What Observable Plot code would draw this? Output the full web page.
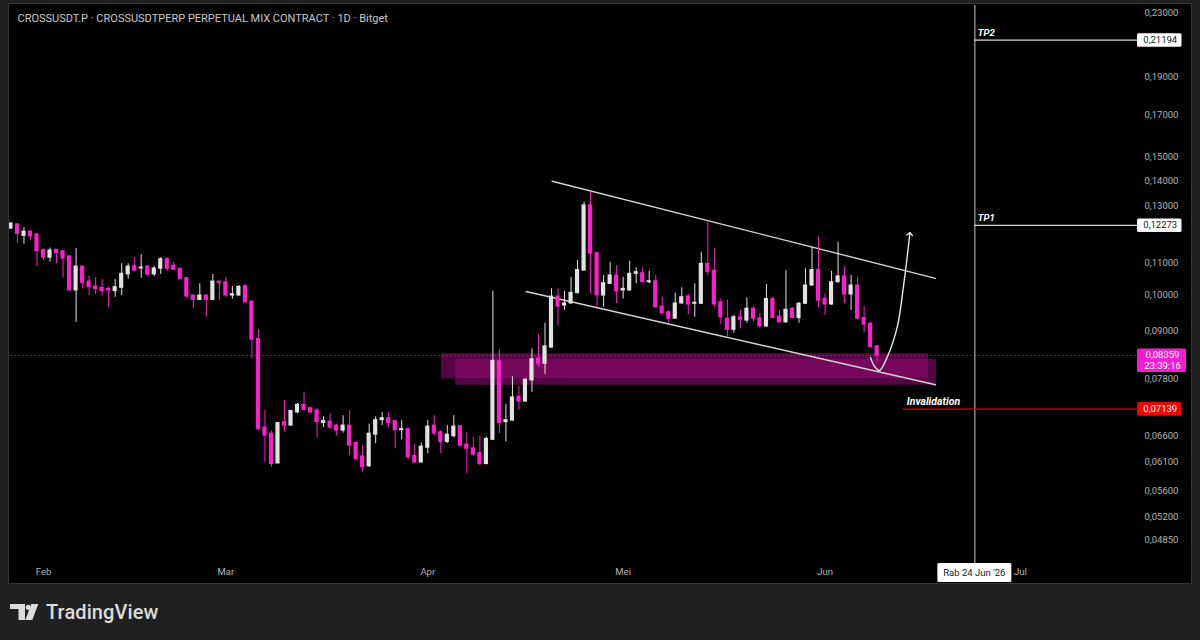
<!DOCTYPE html>
<html>
<head>
<meta charset="utf-8">
<script src="https://cdn.jsdelivr.net/npm/d3@7"></script>
<script src="https://cdn.jsdelivr.net/npm/@observablehq/plot@0.6"></script>
<style>
html,body{margin:0;padding:0;background:#202020;width:1200px;height:640px;overflow:hidden;font-family:Roboto,"Noto Sans",sans-serif;}
#frame{position:absolute;left:9px;top:4px;width:1182px;height:579px;background:#000;outline:1px solid #353535;}
#frame svg{display:block;}
#brand{position:absolute;left:10px;top:598px;height:28px;display:flex;align-items:center;color:#dcdcdc;font-family:Roboto,sans-serif;font-weight:500;font-size:20px;letter-spacing:0.1px;}
#brand svg{margin-right:7px;}
</style>
</head>
<body>
<div id="frame"></div>
<div id="brand"><svg width="29" height="16" viewBox="0 0 29 16"><path d="M0 0H15V16H8.5V5H0Z" fill="#dcdcdc"/><circle cx="18.3" cy="3.3" r="2.6" fill="#dcdcdc"/><path d="M21.3 0H28.3L22.3 16H15.3Z" fill="#dcdcdc"/></svg><span>TradingView</span></div>
<script>
// ---------- data ----------
const titleText = "CROSSUSDT.P · CROSSUSDTPERP PERPETUAL MIX CONTRACT · 1D · Bitget";
const firstCandleDate = "2026-01-27"; // daily candles, one per day

const opens = [
0.1216,0.1231,0.1190,0.1205,0.1195,0.1142,0.1116,0.1142,0.1137,0.1120,
0.1013,0.1087,0.1040,0.1025,0.1021,0.1018,0.1011,0.1021,0.1062,0.1088,
0.1081,0.1087,0.1062,0.1080,0.1111,0.1090,0.1080,0.1051,0.0998,0.0985,
0.0998,0.0985,0.1040,0.1038,0.0998,0.0998,0.1026,0.0980,0.0878,0.0676,
0.0664,0.0608,0.0687,0.0680,0.0707,0.0723,0.0716,0.0711,0.0685,0.0688,
0.0680,0.0670,0.0680,0.0646,0.0621,0.0603,0.0662,0.0691,0.0695,0.0689,
0.0671,0.0673,0.0622,0.0610,0.0637,0.0680,0.0667,0.0648,0.0659,0.0679,
0.0643,0.0636,0.0627,0.0607,0.0652,0.0822,0.0687,0.0690,0.0740,0.0730,
0.0777,0.0828,0.0816,0.0856,0.0995,0.0969,0.0975,0.1005,0.1074,0.1302,
0.1131,0.0998,0.1033,0.1059,0.1013,0.1013,0.1064,0.1066,0.1038,0.1041,
0.0966,0.0950,0.0932,0.0975,0.0995,0.0974,0.0974,0.1096,0.1074,0.0978,
0.0932,0.0902,0.0936,0.0927,0.0960,0.0933,0.0911,0.0988,0.0938,0.0922,
0.0960,0.0934,0.0974,0.1028,0.1076,0.0988,0.0972,0.1038,0.1056,0.1001,
0.1028,0.0934,0.0918,0.0859];
const highs = [
0.1238,0.1234,0.1220,0.1209,0.1200,0.1144,0.1148,0.1143,0.1140,0.1123,
0.1146,0.1089,0.1056,0.1052,0.1046,0.1023,0.1046,0.1096,0.1096,0.1116,
0.1126,0.1089,0.1087,0.1116,0.1116,0.1101,0.1081,0.1053,0.1000,0.1033,
0.1000,0.1062,0.1040,0.1053,0.1025,0.1028,0.1031,0.0983,0.0902,0.0711,
0.0669,0.0687,0.0732,0.0711,0.0726,0.0750,0.0718,0.0715,0.0698,0.0705,
0.0683,0.0700,0.0711,0.0648,0.0641,0.0683,0.0698,0.0707,0.0707,0.0690,
0.0690,0.0675,0.0643,0.0646,0.0690,0.0700,0.0670,0.0680,0.0700,0.0680,
0.0667,0.0656,0.0659,0.0657,0.1011,0.0849,0.0724,0.0785,0.0763,0.0779,
0.0853,0.0889,0.0920,0.1018,0.1018,0.1011,0.1053,0.1107,0.1315,0.1354,
0.1134,0.1059,0.1101,0.1090,0.1053,0.1105,0.1083,0.1083,0.1072,0.1059,
0.0993,0.0955,0.1005,0.1021,0.1001,0.1033,0.1134,0.1239,0.1146,0.0988,
0.0985,0.0941,0.0955,0.0991,0.0966,0.0947,0.1031,0.0993,0.0955,0.1074,
0.0963,0.0978,0.1080,0.1151,0.1186,0.1003,0.1072,0.1168,0.1087,0.1059,
0.1053,0.0966,0.0922,0.0861];
const lows = [
0.1213,0.1164,0.1161,0.1174,0.1087,0.1107,0.1101,0.1096,0.1051,0.1011,
0.0922,0.1018,0.0998,0.1001,0.0996,0.0963,0.0993,0.0998,0.1048,0.1072,
0.1050,0.1056,0.1056,0.1062,0.1072,0.1074,0.1045,0.0988,0.0960,0.0985,
0.0936,0.0983,0.0983,0.0993,0.0987,0.0996,0.0976,0.0828,0.0670,0.0610,
0.0601,0.0608,0.0667,0.0679,0.0704,0.0711,0.0705,0.0656,0.0676,0.0673,
0.0660,0.0665,0.0622,0.0613,0.0593,0.0601,0.0645,0.0680,0.0676,0.0635,
0.0652,0.0616,0.0608,0.0608,0.0626,0.0660,0.0626,0.0645,0.0656,0.0638,
0.0590,0.0621,0.0604,0.0606,0.0651,0.0664,0.0648,0.0689,0.0712,0.0728,
0.0750,0.0808,0.0791,0.0854,0.0913,0.0955,0.0972,0.1003,0.1074,0.1003,
0.0964,0.0964,0.1031,0.0975,0.0988,0.1011,0.1033,0.1035,0.1033,0.0963,
0.0943,0.0920,0.0932,0.0972,0.0943,0.0936,0.0972,0.1059,0.0964,0.0916,
0.0883,0.0893,0.0905,0.0920,0.0922,0.0909,0.0909,0.0932,0.0920,0.0920,
0.0932,0.0920,0.0972,0.1025,0.0963,0.0941,0.0969,0.1035,0.0974,0.0955,
0.0929,0.0895,0.0856,0.0820];
const closes = [
0.1234,0.1197,0.1205,0.1188,0.1138,0.1116,0.1140,0.1131,0.1113,0.1013,
0.1087,0.1036,0.1023,0.1017,0.1011,0.1013,0.1023,0.1064,0.1087,0.1074,
0.1084,0.1061,0.1081,0.1111,0.1080,0.1077,0.1048,0.0995,0.0985,0.0998,
0.0985,0.1040,0.1036,0.0998,0.1002,0.1024,0.0978,0.0876,0.0673,0.0660,
0.0607,0.0685,0.0680,0.0710,0.0723,0.0712,0.0707,0.0687,0.0689,0.0676,
0.0670,0.0680,0.0641,0.0616,0.0602,0.0664,0.0691,0.0695,0.0685,0.0671,
0.0673,0.0619,0.0610,0.0639,0.0678,0.0664,0.0648,0.0662,0.0678,0.0641,
0.0635,0.0624,0.0607,0.0654,0.0823,0.0685,0.0691,0.0739,0.0730,0.0779,
0.0827,0.0816,0.0859,0.0995,0.0966,0.0975,0.1006,0.1076,0.1302,0.1129,
0.0998,0.1035,0.1059,0.1011,0.1018,0.1064,0.1069,0.1038,0.1041,0.0964,
0.0947,0.0932,0.0975,0.0993,0.0972,0.0977,0.1096,0.1070,0.0972,0.0936,
0.0902,0.0936,0.0929,0.0960,0.0932,0.0911,0.0988,0.0934,0.0922,0.0957,
0.0934,0.0974,0.1028,0.1076,0.0983,0.0972,0.1038,0.1056,0.1001,0.1028,
0.0932,0.0916,0.0857,0.08359];

// price axis ticks (those hidden behind the price labels are left out) and month labels
const priceTicks = [0.23,0.19,0.17,0.15,0.14,0.13,0.11,0.10,0.09,0.078,0.066,0.061,0.056,0.052,0.0485];
const monthTicks = ["2026-02-01","2026-03-01","2026-04-01","2026-05-01","2026-06-01","2026-07-01"];
const monthLabels = ["Feb","Mar","Apr","Mei","Jun","Jul"];

// annotation levels
const targetNames = ["TP2","TP1"];
const targetPrices = [0.21194, 0.12273];
const invalidationPrice = 0.07139;
const invalidationFrom = "2026-06-13";
const currentPrice = 0.08359;
const countdown = "23:39:16";
const crosshairDate = "2026-06-24";
const crosshairLabel = "Rab 24 Jun '26";

// descending channel
const channelNames = ["upper","upper","lower","lower"];
const channelDates = ["2026-04-20T02:24Z","2026-06-17T23:00Z","2026-04-16T02:24Z","2026-06-17T23:00Z"];
const channelPrices = [0.1398, 0.1050, 0.1010, 0.0767];

// demand zone (two overlapping boxes)
const zoneFrom = ["2026-04-03T02:24Z","2026-04-05T07:12Z"];
const zoneTo = ["2026-06-16T21:36Z","2026-06-18T02:24Z"];
const zoneLow = [0.0781, 0.0766];
const zoneHigh = [0.0841, 0.0827];

// projected path
const pathDates = ["2026-06-07T23:31Z","2026-06-08T14:10Z","2026-06-09T08:38Z","2026-06-10T12:58Z","2026-06-12T01:55Z","2026-06-13T02:10Z","2026-06-13T14:38Z","2026-06-14T00:14Z"];
const pathPrices = [0.0831, 0.0810, 0.0800, 0.0832, 0.0909, 0.1033, 0.1118, 0.1197];

// ---------- build ----------
const DAY = 864e5;
const t0 = Date.parse(firstCandleDate + "T00:00Z");
const candles = opens.map((o, i) => ({
  date: new Date(t0 + i * DAY), open: o, high: highs[i], low: lows[i], close: closes[i]
}));
const UP = "#e2e2e2", DOWN = "#ff1dd0";
const col = d => d.close >= d.open ? UP : DOWN;

const zones = zoneFrom.map((f, i) => ({x1: new Date(f), x2: new Date(zoneTo[i]), y1: zoneLow[i], y2: zoneHigh[i]}));
const channel = channelDates.map((d, i) => ({name: channelNames[i], date: new Date(d), price: channelPrices[i]}));
const path = pathDates.map((d, i) => ({date: new Date(d), price: pathPrices[i]}));
const targets = targetNames.map((n, i) => ({name: n, price: targetPrices[i]}));
const cross = new Date(crosshairDate + "T00:00Z");
const invFrom = new Date(invalidationFrom + "T00:00Z");
const months = monthTicks.map(d => new Date(d + "T00:00Z"));

const feb1 = Date.UTC(2026, 1, 1);
const xDomain = [new Date(feb1 - 5.07 * DAY), new Date(feb1 + 166.9 * DAY)];
const W = 1182, H = 579, mR = 61, mL = 1, mT = 1, mB = 24;
const fmt = v => d3.format(".5f")(v).replace(".", ",");

const chart = Plot.plot({
  width: W, height: H,
  marginLeft: mL, marginRight: mR, marginTop: mT, marginBottom: mB,
  style: {background: "#000", color: "#b4b4b4", fontFamily: "Roboto, sans-serif", fontSize: "9.5px", overflow: "visible"},
  x: {type: "utc", domain: xDomain},
  y: {type: "log", domain: [0.04581, 0.2348]},
  marks: [
    Plot.axisY({anchor: "right", ticks: priceTicks, tickFormat: fmt, tickSize: 0, tickPadding: 14, label: null, fill: "#b4b4b4"}),
    Plot.axisX({ticks: months, tickFormat: d => monthLabels[months.findIndex(m => +m === +d)], tickSize: 0, tickPadding: 9, label: null, fill: "#b4b4b4"}),
    Plot.text([titleText], {text: d => d, frameAnchor: "top-left", textAnchor: "start", lineAnchor: "top", dx: 7, dy: 8.5, fill: "#c8c8c8", fontSize: 11}),
    Plot.rect(zones, {x1: "x1", x2: "x2", y1: "y1", y2: "y2", fill: "#8c0a70", fillOpacity: 0.6}),
    Plot.ruleY([currentPrice], {stroke: "#c41aa3", strokeWidth: 1, strokeDasharray: "1.5,2.5", insetRight: -7}),
    Plot.ruleX([cross], {stroke: "#cfcfcf", strokeWidth: 1, insetBottom: -4}),
    Plot.ruleY(targets, {y: "price", x1: () => cross, x2: () => xDomain[1], stroke: "#d6d6d6", strokeWidth: 1.3, insetRight: -7}),
    Plot.text(targets, {x: () => cross, y: "price", text: "name", textAnchor: "start", lineAnchor: "bottom", dx: 3, dy: -4, fill: "#ffffff", fontWeight: "bold", fontStyle: "italic", fontSize: 9.5}),
    Plot.ruleY([invalidationPrice], {y: d => d, x1: () => invFrom, x2: () => xDomain[1], stroke: "#e00000", strokeWidth: 1.4, insetRight: -7}),
    Plot.text(["Invalidation"], {x: () => invFrom, y: () => invalidationPrice, text: d => d, textAnchor: "start", lineAnchor: "bottom", dx: 3.5, dy: -4, fill: "#ffffff", fontWeight: "bold", fontStyle: "italic", fontSize: 10.5}),
    Plot.line(channel, {x: "date", y: "price", z: "name", stroke: "#d4d4d4", strokeWidth: 1.4}),
    Plot.ruleX(candles, {x: "date", y1: "low", y2: "high", stroke: col, strokeWidth: 1}),
    Plot.rect(candles, {x1: d => new Date(+d.date - 0.32 * DAY), x2: d => new Date(+d.date + 0.32 * DAY), y1: "open", y2: "close", fill: col, insetTop: -0.5, insetBottom: -0.5}),
    Plot.line(path, {x: "date", y: "price", curve: "catmull-rom", stroke: "#e8e8e8", strokeWidth: 1.4, markerEnd: "arrow"})
  ]
});
document.getElementById("frame").appendChild(chart);

// price labels on the axis and date label, positioned through Plot's scales
const ySc = chart.scale("y"), xSc = chart.scale("x");
const g = d3.select(chart).append("g").attr("font-family", "Roboto, sans-serif").attr("font-size", 9.5);
const bx = W - mR + 7;
function priceBox(value, lines, bg, fg, w) {
  const cy = ySc.apply(value);
  const h = lines.length === 1 ? 13.5 : 23.5;
  g.append("rect").attr("x", bx).attr("y", cy - 6.5).attr("width", w).attr("height", h).attr("fill", bg).attr("rx", 1.5);
  lines.forEach((t, i) => g.append("text").attr("x", bx + w / 2 + 1).attr("y", cy + i * 10.5).attr("dy", "0.35em")
    .attr("text-anchor", "middle").attr("fill", fg).text(t));
}
targets.forEach(t => priceBox(t.price, [fmt(t.price)], "#ffffff", "#131722", 44.5));
priceBox(currentPrice, [fmt(currentPrice), countdown], "#f21ad2", "#ffffff", 49);
priceBox(invalidationPrice, [fmt(invalidationPrice)], "#f00000", "#ffffff", 44.5);

const cx = xSc.apply(cross);
g.append("rect").attr("x", cx - 37).attr("y", H - mB + 4).attr("width", 74).attr("height", 19).attr("fill", "#ffffff").attr("rx", 1.5);
g.append("text").attr("x", cx).attr("y", H - mB + 13.5).attr("dy", "0.35em").attr("text-anchor", "middle").attr("fill", "#131722").text(crosshairLabel);
</script>
</body>
</html>
